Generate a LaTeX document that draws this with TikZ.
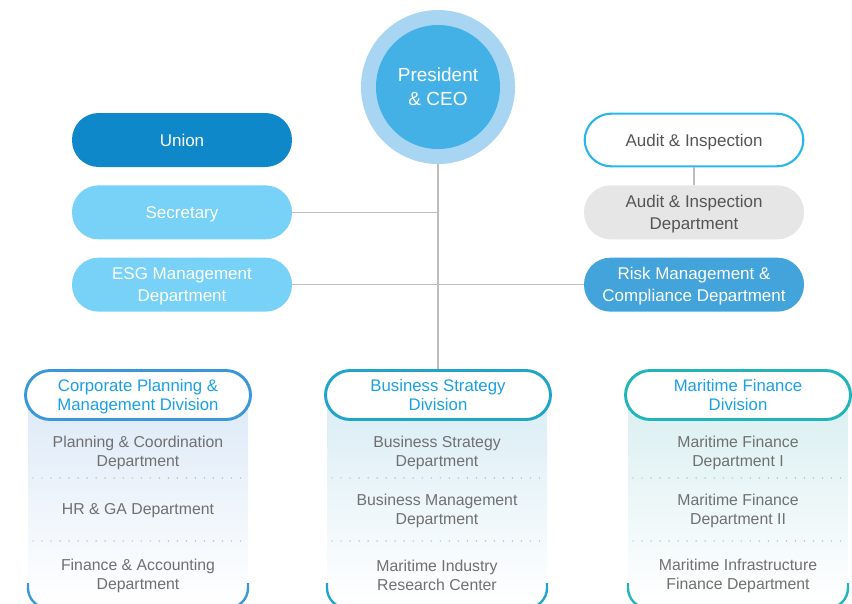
\documentclass[tikz,border=0pt]{standalone}
\usepackage{fontspec}
\setmainfont{Liberation Sans}
\usepackage{tikz}
\usetikzlibrary{positioning}
\definecolor{ringblue}{HTML}{A8D5F2}
\definecolor{ceoblue}{HTML}{44B1E6}
\definecolor{unionblue}{HTML}{0F88CA}
\definecolor{skyblue}{HTML}{78D1F6}
\definecolor{auditblue}{HTML}{2BB6EA}
\definecolor{greyfill}{HTML}{E6E6E6}
\definecolor{riskblue}{HTML}{43A4DC}
\definecolor{corpblue}{HTML}{3B98D8}
\definecolor{bizblue}{HTML}{20A4C8}
\definecolor{seateal}{HTML}{22B4B8}
\definecolor{titleblue}{HTML}{1BA1E2}
\definecolor{textgray}{HTML}{555555}
\definecolor{deptgray}{HTML}{707070}
\definecolor{linegray}{HTML}{BDBDBD}
\definecolor{dotgray}{HTML}{A8A8A8}
\definecolor{corptint}{HTML}{DDEAF7}
\definecolor{biztint}{HTML}{DAEDF5}
\definecolor{seatint}{HTML}{DAEFF1}
\tikzstyle{pill} = [rectangle, rounded corners=0.8cm, minimum width=6.6cm, minimum height=1.62cm, inner sep=0pt, text depth=0pt, text centered, align=center, font=\fontsize{14.5}{18.8}\selectfont]
\tikzstyle{darkpill} = [pill, fill=unionblue, text=white]
\tikzstyle{lightpill} = [pill, fill=skyblue, text=white]
\tikzstyle{outlinepill} = [pill, draw=auditblue, line width=1.8pt, fill=white, text=textgray, minimum width=6.56cm, minimum height=1.58cm]
\tikzstyle{greypill} = [pill, fill=greyfill, text=textgray]
\tikzstyle{riskpill} = [pill, fill=riskblue, text=white]
\tikzstyle{division} = [rectangle, rounded corners=0.74cm, minimum width=6.75cm, minimum height=1.47cm, inner sep=0pt, text depth=0pt, fill=white, line width=2.5pt, text=titleblue, align=center, font=\fontsize{14.3}{16.2}\selectfont]
\tikzstyle{dept} = [align=center, text depth=0pt, text=deptgray, font=\fontsize{13.5}{16.2}\selectfont]
\tikzstyle{link} = [draw=linegray, line width=1.3pt]
\tikzstyle{sep} = [draw=dotgray, line width=1.2pt, line cap=round, dash pattern=on 0pt off 7.7pt]
\tikzstyle{corner} = [line width=2pt, rounded corners=0.6cm]

\begin{document}
\begin{tikzpicture}[x=0.03cm, y=-0.03cm, node distance=2.17cm]
\useasboundingbox (0,0) rectangle (852,603);
% column backgrounds
\shade[top color=corptint, bottom color=white] (28,400) rectangle (248,603);
\shade[top color=biztint, bottom color=white] (327,400) rectangle (547,603);
\shade[top color=seatint, bottom color=white] (628,400) rectangle (848,603);
\draw[corner, corpblue] (28,583) -- (28,608) -- (248,608) -- (248,583);
\draw[corner, bizblue] (327,583) -- (327,608) -- (547,608) -- (547,583);
\draw[corner, seateal] (628,583) -- (628,608) -- (848,608) -- (848,583);

% top
\node (ceo) [circle, fill=ringblue, minimum size=4.62cm] at (438,87) {};
\node (ceoin) [circle, fill=ceoblue, minimum size=3.72cm, text=white, align=center, font=\fontsize{16.2}{20.5}\selectfont] at (438,87) {President\\\& CEO};

\node (union) [darkpill] at (182,140) {Union};
\node (secretary) [lightpill, below of=union] {Secretary};
\node (esg) [lightpill, below of=secretary] {ESG Management\\Department};

\node (audit) [outlinepill] at (694,140) {Audit \& Inspection};
\node (auditdept) [greypill, below of=audit] {Audit \& Inspection\\Department};
\node (risk) [riskpill, below of=auditdept] {Risk Management \&\\Compliance Department};

% divisions
\node (corpdiv) [division, draw=corpblue] at (138,395) {Corporate Planning \&\\Management Division};
\node (bizdiv) [division, draw=bizblue] at (438,395) {Business Strategy\\Division};
\node (seadiv) [division, draw=seateal] at (738,395) {Maritime Finance\\Division};

% connectors
\draw [link] (ceo.south) -- (bizdiv.north);
\draw [link] (secretary.east) -- (secretary.east -| ceo.south);
\draw [link] (esg) -- (risk);
\draw [link] (audit) -- (auditdept);

% departments
\node (planning) [dept] at (138,451) {Planning \& Coordination\\Department};
\node (hrga) [dept] at (138,509) {HR \& GA Department};
\node (finance) [dept] at (138,574) {Finance \& Accounting\\Department};
\node (bizstrat) [dept] at (437,451) {Business Strategy\\Department};
\node (bizmgmt) [dept] at (437,509) {Business Management\\Department};
\node (research) [dept] at (437,575) {Maritime Industry\\Research Center};
\node (seafin1) [dept] at (738,451) {Maritime Finance\\Department I};
\node (seafin2) [dept] at (738,509) {Maritime Finance\\Department II};
\node (infra) [dept] at (738,574) {Maritime Infrastructure\\Finance Department};

\draw [sep] (33,478) -- (243,478);
\draw [sep] (33,541) -- (243,541);
\draw [sep] (332,478) -- (542,478);
\draw [sep] (332,541) -- (542,541);
\draw [sep] (633,478) -- (843,478);
\draw [sep] (633,541) -- (843,541);
\end{tikzpicture}
\end{document}
